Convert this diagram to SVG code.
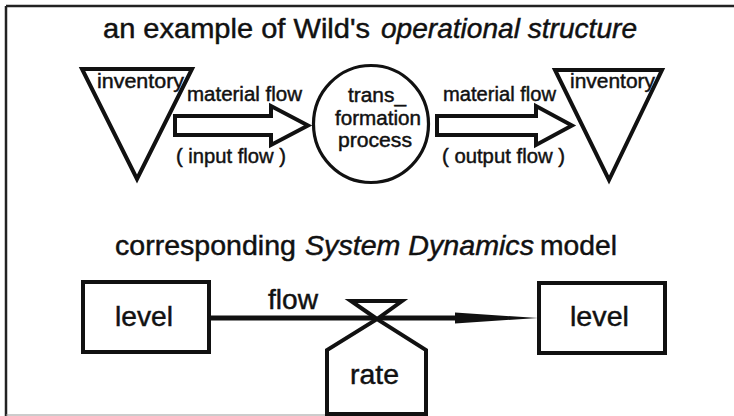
<svg xmlns="http://www.w3.org/2000/svg" width="734" height="416" viewBox="0 0 734 416">
  <style>
    text { font-family: "Liberation Sans", Arial, sans-serif; fill: #111; stroke: #111; stroke-width: 0.45; }
    .t25 { font-size: 27px; }
    .t18 { font-size: 20px; }
    .it { font-style: italic; }
    .shape { fill: #fff; stroke: #111; stroke-width: 4; stroke-linejoin: miter; }
    .thin { fill: #fff; stroke: #111; stroke-width: 3.2; }
  </style>
  <rect x="0" y="0" width="734" height="416" fill="#fff"/>
  <g id="frame" fill="none" stroke="#222">
    <line x1="6" y1="6" x2="734" y2="6" stroke-width="2.5"/>
    <line x1="6" y1="6" x2="6" y2="416" stroke-width="2.5"/>
    <line x1="6" y1="415" x2="330" y2="415" stroke="#999" stroke-width="1"/>
  </g>

  <g id="title-top">
    <text class="t25" x="103" y="38" textLength="267" lengthAdjust="spacingAndGlyphs">an example of Wild's</text>
    <text class="t25 it" x="381" y="38" textLength="256" lengthAdjust="spacingAndGlyphs">operational structure</text>
  </g>

  <g id="connectors">
    <g id="input-flow">
      <polygon class="shape" points="175,116 271,116 271,106 308,125.5 271,145 271,135 175,135"/>
      <text class="t18" x="187" y="101" textLength="115" lengthAdjust="spacingAndGlyphs">material flow</text>
      <text class="t18" x="176" y="163" textLength="110" lengthAdjust="spacingAndGlyphs">( input flow )</text>
    </g>
    <g id="output-flow">
      <polygon class="shape" points="437,116 536,116 536,106 572,125.5 536,145 536,135 437,135"/>
      <text class="t18" x="443" y="101" textLength="113" lengthAdjust="spacingAndGlyphs">material flow</text>
      <text class="t18" x="442" y="163" textLength="123" lengthAdjust="spacingAndGlyphs">( output flow )</text>
    </g>
    <g id="sd-flow">
      <line x1="209" y1="318" x2="456" y2="318" stroke="#111" stroke-width="5"/>
      <polygon points="455,312.5 538,318 455,323.5" fill="#111"/>
      <text class="t25" x="268" y="309" textLength="50" lengthAdjust="spacingAndGlyphs">flow</text>
    </g>
  </g>

  <g id="inventory-left">
    <polygon class="shape" points="82,69 192,69 137,179"/>
    <text class="t18" x="97" y="88" textLength="87" lengthAdjust="spacingAndGlyphs">inventory</text>
  </g>

  <g id="process">
    <ellipse class="thin" cx="371" cy="124" rx="57.5" ry="58.5"/>
    <text class="t18" x="377" y="102" text-anchor="middle" textLength="58" lengthAdjust="spacingAndGlyphs">trans_</text>
    <text class="t18" x="378" y="125" text-anchor="middle" textLength="86" lengthAdjust="spacingAndGlyphs">formation</text>
    <text class="t18" x="375" y="147" text-anchor="middle" textLength="74" lengthAdjust="spacingAndGlyphs">process</text>
  </g>

  <g id="inventory-right">
    <polygon class="shape" points="555,70 662,70 609,180"/>
    <text class="t18" x="570" y="88" textLength="85" lengthAdjust="spacingAndGlyphs">inventory</text>
  </g>

  <g id="title-bottom">
    <text class="t25" x="115" y="255" textLength="181" lengthAdjust="spacingAndGlyphs">corresponding</text>
    <text class="t25 it" x="305" y="255" textLength="229" lengthAdjust="spacingAndGlyphs">System Dynamics</text>
    <text class="t25" x="540" y="255" textLength="77" lengthAdjust="spacingAndGlyphs">model</text>
  </g>

  <g id="level-left">
    <rect class="shape" x="83" y="282" width="126" height="70"/>
    <text class="t25" x="115" y="326" textLength="58" lengthAdjust="spacingAndGlyphs">level</text>
  </g>

  <g id="rate">
    <polygon class="shape" points="377,319 351,301 402,301"/>
    <polygon class="shape" points="327,414 327,350 377,319 426,350 426,414"/>
    <text class="t25" x="350" y="384" textLength="49" lengthAdjust="spacingAndGlyphs">rate</text>
  </g>

  <g id="level-right">
    <rect class="shape" x="539" y="283" width="126" height="70"/>
    <text class="t25" x="570" y="326" textLength="59" lengthAdjust="spacingAndGlyphs">level</text>
  </g>
</svg>
